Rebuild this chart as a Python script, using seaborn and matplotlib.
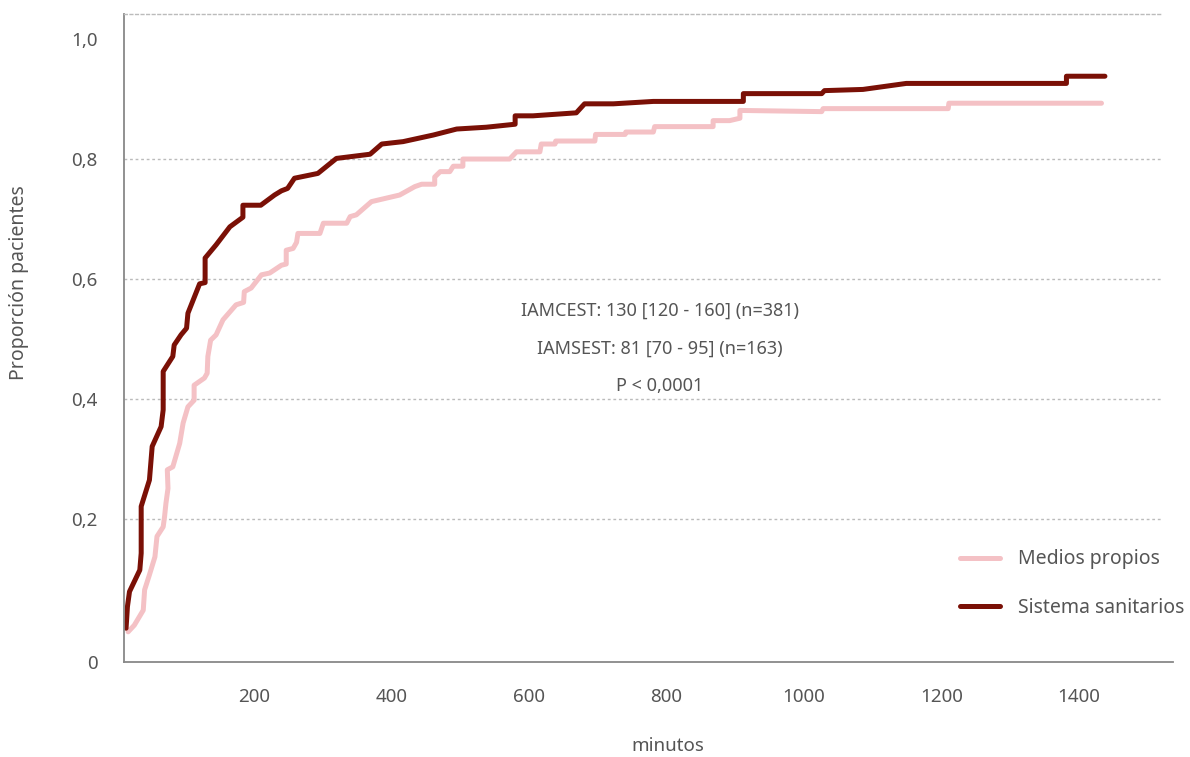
import matplotlib
matplotlib.use("Agg")
import matplotlib.pyplot as plt
from matplotlib.lines import Line2D
import seaborn as sns
import pandas as pd

# Cumulative proportion of patients over time (minutes), per arrival mode
sistema_min = [14, 16, 19, 34, 36, 36, 48, 52, 65, 68, 68, 82, 84, 94, 102, 104,
               121, 129, 129, 145, 165, 184, 184, 210, 230, 240, 249, 259, 293,
               320, 369, 386, 417, 461, 495, 538, 580, 580, 606, 669, 681, 723,
               781, 912, 912, 1026, 1030, 1086, 1149, 1382, 1382, 1438]
sistema_prop = [0.018, 0.054, 0.079, 0.115, 0.143, 0.221, 0.265, 0.321, 0.354,
                0.382, 0.446, 0.471, 0.490, 0.507, 0.518, 0.543, 0.592, 0.594,
                0.635, 0.657, 0.687, 0.703, 0.723, 0.723, 0.740, 0.747, 0.751,
                0.768, 0.776, 0.801, 0.808, 0.825, 0.829, 0.840, 0.850, 0.853,
                0.858, 0.872, 0.872, 0.877, 0.892, 0.892, 0.896, 0.896, 0.909,
                0.909, 0.914, 0.916, 0.926, 0.926, 0.938, 0.938]

propios_min = [17, 26, 39, 41, 48, 56, 59, 68, 70, 72, 75, 74, 82, 92, 97, 104,
               113, 113, 128, 132, 133, 137, 145, 155, 174, 185, 186, 196, 211,
               223, 240, 247, 247, 257, 262, 264, 296, 301, 335, 340, 349, 371,
               412, 434, 444, 463, 463, 471, 485, 490, 504, 504, 572, 582, 616,
               618, 638, 639, 696, 697, 740, 741, 781, 783, 868, 868, 892, 907,
               907, 1026, 1028, 1210, 1211, 1433]
propios_prop = [0.012, 0.023, 0.048, 0.082, 0.107, 0.137, 0.171, 0.187, 0.204,
                0.226, 0.251, 0.282, 0.287, 0.326, 0.360, 0.387, 0.398, 0.423,
                0.435, 0.443, 0.471, 0.498, 0.507, 0.532, 0.557, 0.561, 0.579,
                0.585, 0.607, 0.610, 0.623, 0.625, 0.648, 0.651, 0.661, 0.676,
                0.676, 0.693, 0.693, 0.704, 0.707, 0.729, 0.740, 0.754, 0.758,
                0.758, 0.770, 0.779, 0.779, 0.788, 0.788, 0.800, 0.800, 0.812,
                0.812, 0.825, 0.825, 0.830, 0.830, 0.841, 0.841, 0.845, 0.845,
                0.854, 0.854, 0.864, 0.864, 0.868, 0.881, 0.879, 0.884, 0.884,
                0.893, 0.893]

groups = ["Medios propios", "Sistema sanitarios"]
colors = ["#f4c1c5", "#7a1006"]
x_ticks = [200, 400, 600, 800, 1000, 1200, 1400]
y_grid = [0.2, 0.4, 0.6, 0.8]
y_tick_labels = ["0", "0,2", "0,4", "0,6", "0,8", "1,0"]
stats_lines = ["IAMCEST: 130 [120 - 160] (n=381)",
               "IAMSEST: 81 [70 - 95] (n=163)",
               "P < 0,0001"]

df = pd.concat([
    pd.DataFrame({"minutos": propios_min, "prop": propios_prop, "grupo": groups[0]}),
    pd.DataFrame({"minutos": sistema_min, "prop": sistema_prop, "grupo": groups[1]}),
], ignore_index=True)

sns.set_theme(style="white")
plt.rcParams["font.family"] = ["Noto Sans", "DejaVu Sans"]
text_color = "#555555"

fig = plt.figure(figsize=(11.9, 7.57), dpi=100)
ax = fig.add_axes([0.1042, 0.1255, 0.8815, 0.856])

sns.lineplot(data=df, x="minutos", y="prop", hue="grupo", hue_order=groups,
             palette=colors, estimator=None, sort=False, linewidth=3.6,
             ax=ax, legend=False)

y_bottom, y_top = -0.0383, 1.0417
ax.set_xlim(11, 1537)
ax.set_ylim(y_bottom, y_top)

for yv in y_grid:
    ax.axhline(yv, xmin=0, xmax=0.99, color="#bbbbbb", lw=1.0,
               linestyle=(0, (2, 2)), zorder=0)

ax.spines["right"].set_visible(False)
ax.spines["top"].set_color("#bbbbbb")
ax.spines["top"].set_linestyle((0, (2, 2)))
ax.spines["top"].set_linewidth(1.0)
ax.spines["top"].set_bounds(11, 11 + 0.99 * (1537 - 11))
for side in ["left", "bottom"]:
    ax.spines[side].set_color("#888888")
    ax.spines[side].set_linewidth(1.3)

ax.set_xticks(x_ticks)
ax.set_xticklabels([str(v) for v in x_ticks])
ax.set_yticks([y_bottom] + y_grid + [1.0])
ax.set_yticklabels(y_tick_labels)
ax.tick_params(axis="both", length=0, labelsize=13.5, colors=text_color)
ax.tick_params(axis="x", pad=19)
ax.tick_params(axis="y", pad=19)

ax.set_xlabel("minutos", fontsize=13.5, color=text_color)
ax.xaxis.label.set_va("center")
ax.xaxis.set_label_coords(0.518, -0.129)
ax.set_ylabel("Proporción pacientes", fontsize=14, color=text_color)
ax.yaxis.label.set_va("center")
ax.yaxis.set_label_coords(-0.1, 0.586)

for txt, yf in zip(stats_lines, [0.5417, 0.483, 0.426]):
    ax.text(0.511, yf, txt, transform=ax.transAxes, ha="center", va="center",
            fontsize=13, color=text_color)

handles = [Line2D([0], [0], color=c, lw=3.6) for c in colors]
ax.legend(handles, groups, loc="upper left", bbox_to_anchor=(0.7985, 0.287),
          bbox_transform=fig.transFigure, frameon=False, fontsize=14,
          handlelength=2.05, handletextpad=0.95, labelspacing=1.48,
          borderpad=0, labelcolor=text_color)

fig.savefig("out.png", dpi=100)
